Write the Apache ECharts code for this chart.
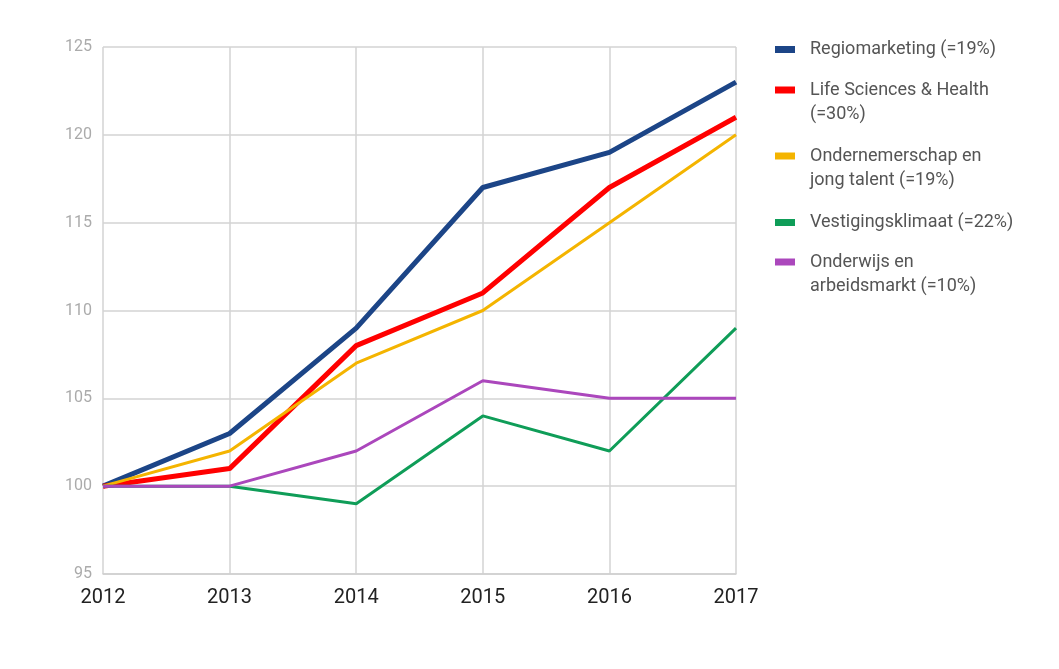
<!DOCTYPE html>
<html><head><meta charset="utf-8">
<script src="https://cdn.jsdelivr.net/npm/echarts@6/dist/echarts.min.js"></script>
<style>html,body{margin:0;padding:0;background:#fff}#c{width:1059px;height:669px}</style>
</head><body><div id="c"></div>
<script>
const years = ['2012','2013','2014','2015','2016','2017'];
const seriesNames = ['Regiomarketing (=19%)','Life Sciences & Health (=30%)','Ondernemerschap en jong talent (=19%)','Vestigingsklimaat (=22%)','Onderwijs en arbeidsmarkt (=10%)'];
const legendLabels = ['Regiomarketing (=19%)','Life Sciences & Health\n(=30%)','Ondernemerschap en\njong talent (=19%)','Vestigingsklimaat (=22%)','Onderwijs en\narbeidsmarkt (=10%)'];
const regiomarketing = [100,103,109,117,119,123];
const lifeSciences = [100,101,108,111,117,121];
const ondernemerschap = [100,102,107,110,115,120];
const vestigingsklimaat = [100,100,99,104,102,109];
const onderwijs = [100,100,102,106,105,105];
const yTicks = [95,100,105,110,115,120,125];

const values = [regiomarketing, lifeSciences, ondernemerschap, vestigingsklimaat, onderwijs];
const colors = ['#1c4587','#ff0000','#f4b400','#0f9d58','#ab47bc'];
const widths = [5,5,3,3,3];
const legendTops = [49.5,90,156,222.5,262];

const chart = echarts.init(document.getElementById('c'));
const legends = seriesNames.map((n,i)=>{
  const two = legendLabels[i].indexOf('\n')>=0;
  return {
    data:[n], left:770, top: two ? legendTops[i]-36-5 : legendTops[i]-12-5,
    orient:'vertical', icon:'rect', itemWidth:20, itemHeight:7,
    formatter:()=> two ? '\u00a0\n'+legendLabels[i] : legendLabels[i],
    textStyle:{fontFamily:'Roboto',fontSize:18,color:'#555555',lineHeight:24,
      padding:[0,0,0,10]},
    selectedMode:false
  };
});
chart.setOption({
  animation:false,
  textStyle:{fontFamily:'Roboto'},
  grid:{left:103,right:323,top:47,bottom:95},
  legend:legends,
  xAxis:{type:'category',data:years,boundaryGap:false,
    axisLine:{lineStyle:{color:'#cfcfcf',width:1.5}},axisTick:{show:false},
    axisLabel:{color:'#222',fontSize:20,margin:14,fontFamily:'Roboto'},
    splitLine:{show:true,lineStyle:{color:'#d3d3d3',width:1.5}}},
  yAxis:{type:'value',min:yTicks[0],max:yTicks[yTicks.length-1],interval:5,
    axisLine:{show:false},axisTick:{show:false},
    axisLabel:{color:'#ababab',fontSize:16,margin:11,fontFamily:'Roboto'},
    splitLine:{lineStyle:{color:'#d3d3d3',width:1.5}}},
  series:seriesNames.map((n,i)=>({
    name:n,type:'line',data:values[i],symbol:'none',
    lineStyle:{color:colors[i],width:widths[i]},itemStyle:{color:colors[i]}
  }))
});
</script></body></html>
